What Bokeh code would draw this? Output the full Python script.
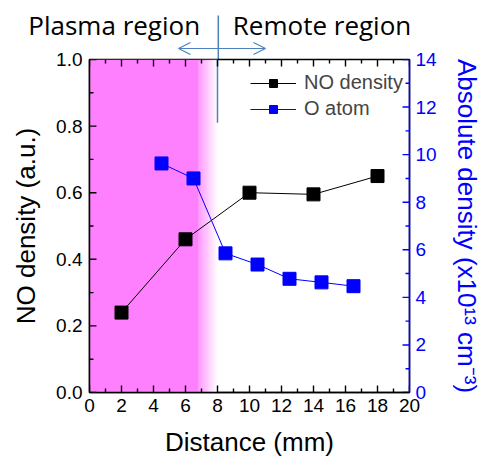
from bokeh.plotting import figure
from bokeh.models import (Range1d, LinearAxis, SingleIntervalTicker, Legend, LegendItem,
                          Arrow, OpenHead, NumeralTickFormatter)
from bokeh.core.properties import value
from bokeh.layouts import column
from bokeh.embed import file_html
from bokeh.resources import INLINE

# ---- data ----
no_x = [2, 6, 10, 14, 18]
no_y = [0.24, 0.46, 0.60, 0.595, 0.65]
o_x = [4.5, 6.5, 8.5, 10.5, 12.5, 14.5, 16.5]
o_y = [9.63, 9.0, 5.85, 5.38, 4.78, 4.63, 4.47]
region_labels = ["Plasma region", "Remote region"]
region_label_x = [-3.8, 8.9]

x_min, x_max = 0, 20
y_min, y_max = 0.0, 1.0
abs_min, abs_max = 0, 14
x_major = [0, 2, 4, 6, 8, 10, 12, 14, 16, 18, 20]
x_minor = [1, 3, 5, 7, 9, 11, 13, 15, 17, 19]
y_major = [0.0, 0.2, 0.4, 0.6, 0.8, 1.0]
y_minor = [0.1, 0.3, 0.5, 0.7, 0.9]
abs_major = [0, 2, 4, 6, 8, 10, 12, 14]
abs_minor = [1, 3, 5, 7, 9, 11, 13]

plasma_solid_end = 6.8
plasma_end = 8.0
divider_x = 8.0
pink = (255, 128, 255)

# ---- layout geometry ----
W = 484
TOP_H = 59
OVERLAP = 12
FRAME_L, FRAME_W, FRAME_R = 89, 322, 73
FRAME_H, FRAME_B = 333, 70
px_x = FRAME_W / (x_max - x_min)
px_y = FRAME_H / (y_max - y_min)
MAJ, MIN = 7, 4

font = "Liberation Sans"
blue2 = "#4f81bd"

p = figure(width=W, height=OVERLAP + FRAME_H + FRAME_B, output_backend="svg",
           toolbar_location=None, title=None,
           x_range=Range1d(x_min, x_max), y_range=Range1d(y_min, y_max),
           min_border_left=FRAME_L, min_border_right=FRAME_R, min_border_top=OVERLAP,
           min_border_bottom=FRAME_B)
p.margin = (-OVERLAP, 0, 0, 0)
p.border_fill_alpha = 0
p.extra_y_ranges = {"abs": Range1d(abs_min, abs_max)}
p.xgrid.visible = False
p.ygrid.visible = False
p.outline_line_color = "black"
p.outline_line_width = 1.5

# pink plasma region with fade to white
p.quad(left=x_min, right=plasma_solid_end, bottom=y_min, top=y_max,
       fill_color="#%02x%02x%02x" % pink, line_color=None, level="underlay")
n = 30
step = (plasma_end - plasma_solid_end) / n
for i in range(n):
    t = (i + 0.5) / n
    c = tuple(int(round(pc + (255 - pc) * t)) for pc in pink)
    p.quad(left=plasma_solid_end + i * step, right=plasma_solid_end + (i + 1) * step + 0.005,
           bottom=y_min, top=y_max, fill_color="#%02x%02x%02x" % c, line_color=None,
           level="underlay")

p.segment(x0=divider_x, y0=0.81, x1=divider_x, y1=y_max, line_color=blue2, line_width=1.5)


# inward ticks (drawn inside the frame)
def ticks_x(vals, length, color="black"):
    dl = length / px_y
    k = len(vals)
    for ya_, yb_ in ((y_min, y_min + dl), (y_max, y_max - dl)):
        p.segment(x0=list(vals), y0=[ya_] * k, x1=list(vals), y1=[yb_] * k,
                  line_color=color, line_width=1.4)


def ticks_y(vals, length, right=False, color="black", rng="default"):
    dl = length / px_x
    x0 = x_max if right else x_min
    x1 = x0 - dl if right else x0 + dl
    k = len(vals)
    p.segment(x0=[x0] * k, y0=list(vals), x1=[x1] * k, y1=list(vals),
              line_color=color, line_width=1.4, y_range_name=rng)


ticks_x(x_major, MAJ)
ticks_x(x_minor, MIN)
ticks_y(y_major, MAJ)
ticks_y(y_minor, MIN)
ticks_y(abs_major, MAJ, right=True, color="blue", rng="abs")
ticks_y(abs_minor, MIN, right=True, color="blue", rng="abs")

# series
l1 = p.line(no_x, no_y, line_color="black", line_width=1)
s1 = p.scatter(no_x, no_y, marker="square", size=13, fill_color="black", line_color="black")
l2 = p.line(o_x, o_y, line_color="blue", line_width=1, y_range_name="abs")
s2 = p.scatter(o_x, o_y, marker="square", size=13, fill_color="blue", line_color="blue",
               y_range_name="abs")


def style_axis(ax, color="black"):
    ax.major_tick_in = 0
    ax.major_tick_out = 0
    ax.minor_tick_in = 0
    ax.minor_tick_out = 0
    ax.major_tick_line_color = None
    ax.minor_tick_line_color = None
    ax.axis_line_color = color
    ax.major_label_text_color = color
    ax.axis_label_text_color = color
    ax.major_label_text_font = font
    ax.axis_label_text_font = font
    ax.major_label_text_font_size = "19px"
    ax.axis_label_text_font_size = "26px"
    ax.axis_label_text_font_style = "normal"
    ax.axis_line_width = 1.5


xa = p.xaxis[0]
xa.ticker = SingleIntervalTicker(interval=2, num_minor_ticks=2)
xa.axis_label = "Distance (mm)"
style_axis(xa)
xa.major_label_standoff = 6
xa.axis_label_standoff = 12

ya = p.yaxis[0]
ya.ticker = SingleIntervalTicker(interval=0.2, num_minor_ticks=2)
ya.formatter = NumeralTickFormatter(format="0.0")
ya.axis_label = "NO density (a.u.)"
style_axis(ya)
ya.major_label_standoff = 7
ya.axis_label_standoff = 12

ra = LinearAxis(y_range_name="abs", ticker=SingleIntervalTicker(interval=2, num_minor_ticks=2),
                axis_label="Absolute density (x10¹³ cm⁻³)")
style_axis(ra, "blue")
ra.major_label_standoff = 6
ra.axis_label_standoff = 12
p.add_layout(ra, "right")

legend = Legend(items=[LegendItem(label="NO density", renderers=[l1, s1]),
                       LegendItem(label="O atom", renderers=[l2, s2])],
                location=(161, 272), border_line_color=None, background_fill_alpha=0,
                label_text_font=font, label_text_font_size="20px", glyph_width=46,
                glyph_height=20, spacing=3, margin=0, padding=2, label_standoff=8)
p.add_layout(legend)

# ---- header strip with region labels and arrows ----
top = figure(width=W, height=TOP_H, output_backend="svg", toolbar_location=None, title=None,
             x_range=Range1d(x_min - FRAME_L / px_x, x_min + (W - FRAME_L) / px_x),
             y_range=Range1d(0, TOP_H), min_border_left=0, min_border_right=0,
             min_border_top=0, min_border_bottom=0)
top.frame_align = False
top.axis.visible = False
top.grid.visible = False
top.outline_line_color = None
top.segment(x0=divider_x, y0=0, x1=divider_x, y1=TOP_H - 15, line_color=blue2, line_width=1.5)
top.add_layout(Arrow(x_start=5.53, y_start=11, x_end=10.93, y_end=11,
                     start=OpenHead(size=12, line_color=blue2, line_width=1.2),
                     end=OpenHead(size=12, line_color=blue2, line_width=1.2),
                     line_color=blue2, line_width=1.2))
top.text(x=region_label_x, y=[TOP_H - 24] * 2, text=region_labels, text_font=value("Open Sans"),
         text_font_size="26px", text_baseline="alphabetic", text_color="black")

layout = column(top, p, spacing=0)
open("out.html", "w").write(file_html(layout, INLINE))
